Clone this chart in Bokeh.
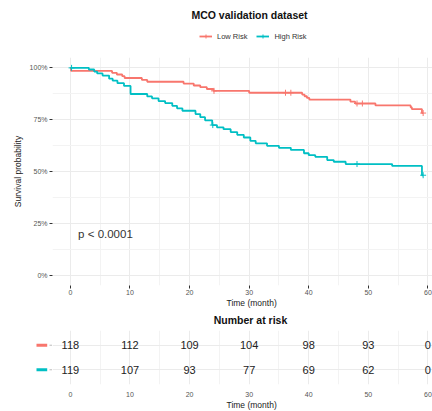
from bokeh.plotting import figure
from bokeh.layouts import column, row
from bokeh.models import (Range1d, FixedTicker, Label, Legend, LegendItem,
                          ColumnDataSource, Title)
from bokeh.embed import file_html
from bokeh.resources import INLINE
from bokeh.core.properties import value

# ---------------- data ----------------
low_time = [0, 0.1, 7.0, 7.8, 8.7, 9.1, 12.0, 12.9, 19.0, 20.7, 21.8, 22.9, 24.0,
            30.0, 38.9, 39.3, 39.7, 40.1, 47.0, 47.8, 51.2, 57.1, 57.3, 59.0, 59.2]
low_surv = [1.0, 0.985, 0.976, 0.968, 0.960, 0.951, 0.942, 0.933, 0.924, 0.915,
            0.907, 0.898, 0.889, 0.880, 0.871, 0.863, 0.855, 0.847, 0.837, 0.828,
            0.819, 0.810, 0.801, 0.782, 0.782]
low_cens = [24.1, 36.1, 37.0, 48.1, 49.0, 59.2]

high_time = [0, 3.1, 4.0, 4.5, 5.4, 6.5, 7.1, 7.9, 9.0, 10.1, 12.9, 13.7, 14.8,
             15.9, 17.1, 17.9, 18.8, 21.0, 21.8, 22.6, 23.8, 24.6, 25.7, 26.9,
             28.0, 29.1, 30.2, 31.1, 33.0, 35.0, 37.0, 39.2, 40.0, 41.1, 43.1,
             44.2, 46.2, 54.0, 59.0, 59.2]
high_surv = [1.0, 0.992, 0.982, 0.973, 0.963, 0.948, 0.938, 0.926, 0.913, 0.874,
             0.862, 0.853, 0.840, 0.830, 0.817, 0.805, 0.793, 0.777, 0.762, 0.747,
             0.724, 0.713, 0.704, 0.690, 0.677, 0.664, 0.648, 0.636, 0.624, 0.614,
             0.604, 0.588, 0.579, 0.571, 0.555, 0.547, 0.536, 0.527, 0.482, 0.482]
high_cens = [0.2, 23.9, 48.1, 59.2]

risk_times = [0, 10, 20, 30, 40, 50, 60]
low_at_risk = [118, 112, 109, 104, 98, 93, 0]
high_at_risk = [119, 107, 93, 77, 69, 62, 0]

x_ticks = [0, 10, 20, 30, 40, 50, 60]
x_minor = [5, 15, 25, 35, 45, 55]
y_ticks = [0, 0.25, 0.5, 0.75, 1.0]
y_minor = [0.125, 0.375, 0.625, 0.875]
y_tick_labels = ["0%", "25%", "50%", "75%", "100%"]

group_labels = ["Low Risk", "High Risk"]
title_text = "MCO validation dataset"
table_title = "Number at risk"
x_label = "Time (month)"
y_label = "Survival probability"
pval_text = "p < 0.0001"

FONT = "Liberation Sans"
RED = "#F8766D"
CYAN = "#00BFC4"
W = 432
LEFT = 52
X_RANGE = (-3, 60.77)


def surv_at(times, survs, t):
    s = survs[0]
    for ti, si in zip(times, survs):
        if ti <= t:
            s = si
    return s


def bare(fig):
    fig.outline_line_color = None
    fig.background_fill_color = "white"
    fig.border_fill_color = "white"
    return fig


def header(height):
    f = bare(figure(width=W, height=height, x_range=Range1d(LEFT, W),
                    y_range=Range1d(0, height), output_backend="svg",
                    toolbar_location=None, title=None,
                    x_axis_location=None, y_axis_location=None,
                    min_border_left=LEFT, min_border_right=0,
                    min_border_top=0, min_border_bottom=0))
    f.grid.visible = False
    return f


def x_title():
    return Title(text=x_label, align="left", offset=174, standoff=0,
                 vertical_align="top",
                 text_font=FONT, text_font_size="8.5px", text_font_style="normal",
                 text_color="#222222")


# ---------------- header: title + legend ----------------
h1 = header(57)
h1.add_layout(Label(x=249, y=42.5, text=title_text, text_align="center",
                    text_baseline="middle", text_font=FONT, text_font_size="10.5px",
                    text_font_style="bold", text_color="#111111"))
# legend proxies (kept outside the visible range, only their legend keys show)
proxy_x = [0, 1]
proxy_y = [-20, -20]
k_lr = h1.line(x=proxy_x, y=proxy_y, line_color=RED, line_width=1.8)
k_lrc = h1.scatter(x=proxy_x, y=proxy_y, marker="cross", size=6, line_color=RED)
k_hr = h1.line(x=proxy_x, y=proxy_y, line_color=CYAN, line_width=1.8)
k_hrc = h1.scatter(x=proxy_x, y=proxy_y, marker="cross", size=6, line_color=CYAN)
legend = Legend(items=[LegendItem(label=group_labels[0], renderers=[k_lr, k_lrc]),
                       LegendItem(label=group_labels[1], renderers=[k_hr, k_hrc])],
                orientation="horizontal", location=(199 - LEFT, 16),
                glyph_width=13, glyph_height=10, label_height=10,
                label_standoff=5, spacing=9, padding=0, margin=0,
                border_line_color=None, background_fill_alpha=0,
                label_text_font=FONT, label_text_font_size="7.5px",
                label_text_color="#333333")
h1.add_layout(legend)

# ---------------- main KM plot ----------------
p = bare(figure(width=W, height=253, x_range=Range1d(*X_RANGE),
                y_range=Range1d(-0.05, 1.05), output_backend="svg",
                toolbar_location=None, title=None,
                min_border_left=LEFT, min_border_right=0,
                min_border_top=0, min_border_bottom=25))

for ax in (p.xaxis[0], p.yaxis[0]):
    ax.axis_line_color = None
    ax.major_tick_line_color = "#333333"
    ax.major_tick_in = 0
    ax.major_tick_out = 3
    ax.minor_tick_line_color = None
    ax.major_label_text_font = FONT
    ax.major_label_text_font_size = "7px"
    ax.major_label_text_color = "#555555"
    ax.axis_label_text_font = FONT
    ax.axis_label_text_font_size = "8.5px"
    ax.axis_label_text_font_style = "normal"
    ax.axis_label_text_color = "#222222"

p.xaxis.ticker = FixedTicker(ticks=x_ticks, minor_ticks=x_minor)
p.yaxis.ticker = FixedTicker(ticks=y_ticks, minor_ticks=y_minor)
p.yaxis.major_label_overrides = {t: l for t, l in zip(y_ticks, y_tick_labels)}
p.yaxis.axis_label = y_label
p.xaxis.major_label_standoff = 0
p.yaxis.major_label_standoff = 1
p.yaxis.axis_label_standoff = 4
p.add_layout(x_title(), "below")

for g in (p.xgrid[0], p.ygrid[0]):
    g.grid_line_color = "#EBEBEB"
    g.grid_line_width = 1
    g.minor_grid_line_color = "#F3F3F3"
    g.minor_grid_line_width = 1

p.step(low_time, low_surv, mode="after", line_color=RED, line_width=1.8)
p.step(high_time, high_surv, mode="after", line_color=CYAN, line_width=1.8)
p.scatter(low_cens, [surv_at(low_time, low_surv, t) for t in low_cens],
          marker="cross", size=6, line_color=RED, line_width=1)
p.scatter(high_cens, [surv_at(high_time, high_surv, t) for t in high_cens],
          marker="cross", size=6, line_color=CYAN, line_width=1)

p.add_layout(Label(x=1.3, y=0.2, text=pval_text, text_baseline="middle",
                   text_font=FONT, text_font_size="11.5px", text_color="#333333"))

# ---------------- header: "Number at risk" ----------------
h2 = header(20)
h2.add_layout(Label(x=250, y=11, text=table_title, text_align="center",
                    text_baseline="middle", text_font=FONT, text_font_size="10.5px",
                    text_font_style="bold", text_color="#111111"))

# ---------------- risk table: colour keys ----------------
TY = (0.4, 2.6)
kf = bare(figure(width=LEFT, height=81, x_range=Range1d(0, LEFT), y_range=Range1d(*TY),
                 output_backend="svg", toolbar_location=None, title=None,
                 x_axis_location=None, y_axis_location=None,
                 min_border_left=0, min_border_right=0, min_border_top=0,
                 min_border_bottom=25))
kf.grid.visible = False
key_rows = [2, 1]
key_colors = [RED, CYAN]
kf.segment(x0=[36, 36], y0=key_rows, x1=[46.7, 46.7], y1=key_rows,
           line_color=key_colors, line_width=3)
kf.segment(x0=[49, 49], y0=key_rows, x1=[52, 52], y1=key_rows,
           line_color="#BBBBBB", line_width=1)

# ---------------- risk table ----------------
t = bare(figure(width=W - LEFT, height=81, x_range=Range1d(*X_RANGE),
                y_range=Range1d(*TY), output_backend="svg",
                toolbar_location=None, title=None, y_axis_location=None,
                min_border_left=0, min_border_right=0,
                min_border_top=0, min_border_bottom=25))

xa = t.xaxis[0]
xa.ticker = FixedTicker(ticks=x_ticks, minor_ticks=x_minor)
xa.axis_line_color = None
xa.major_tick_line_color = None
xa.minor_tick_line_color = None
xa.major_label_text_font = FONT
xa.major_label_text_font_size = "7px"
xa.major_label_text_color = "#555555"
xa.major_label_standoff = 1
t.add_layout(x_title(), "below")

t.xgrid.ticker = FixedTicker(ticks=x_ticks, minor_ticks=x_minor)
t.xgrid.grid_line_color = "#EBEBEB"
t.xgrid.minor_grid_line_color = "#F3F3F3"
t.ygrid.ticker = FixedTicker(ticks=[1, 2])
t.ygrid.grid_line_color = "#EBEBEB"

src = ColumnDataSource(dict(
    x=risk_times + risk_times,
    y=[2] * len(risk_times) + [1] * len(risk_times),
    n=[str(v) for v in low_at_risk] + [str(v) for v in high_at_risk]))
t.text(x="x", y="y", text="n", source=src, text_align="center",
       text_baseline="middle", text_font=value(FONT), text_font_size="11px",
       text_color="#222222")

layout = column(h1, p, h2, row(kf, t, spacing=0), spacing=0)
open("out.html", "w").write(file_html(layout, INLINE))
